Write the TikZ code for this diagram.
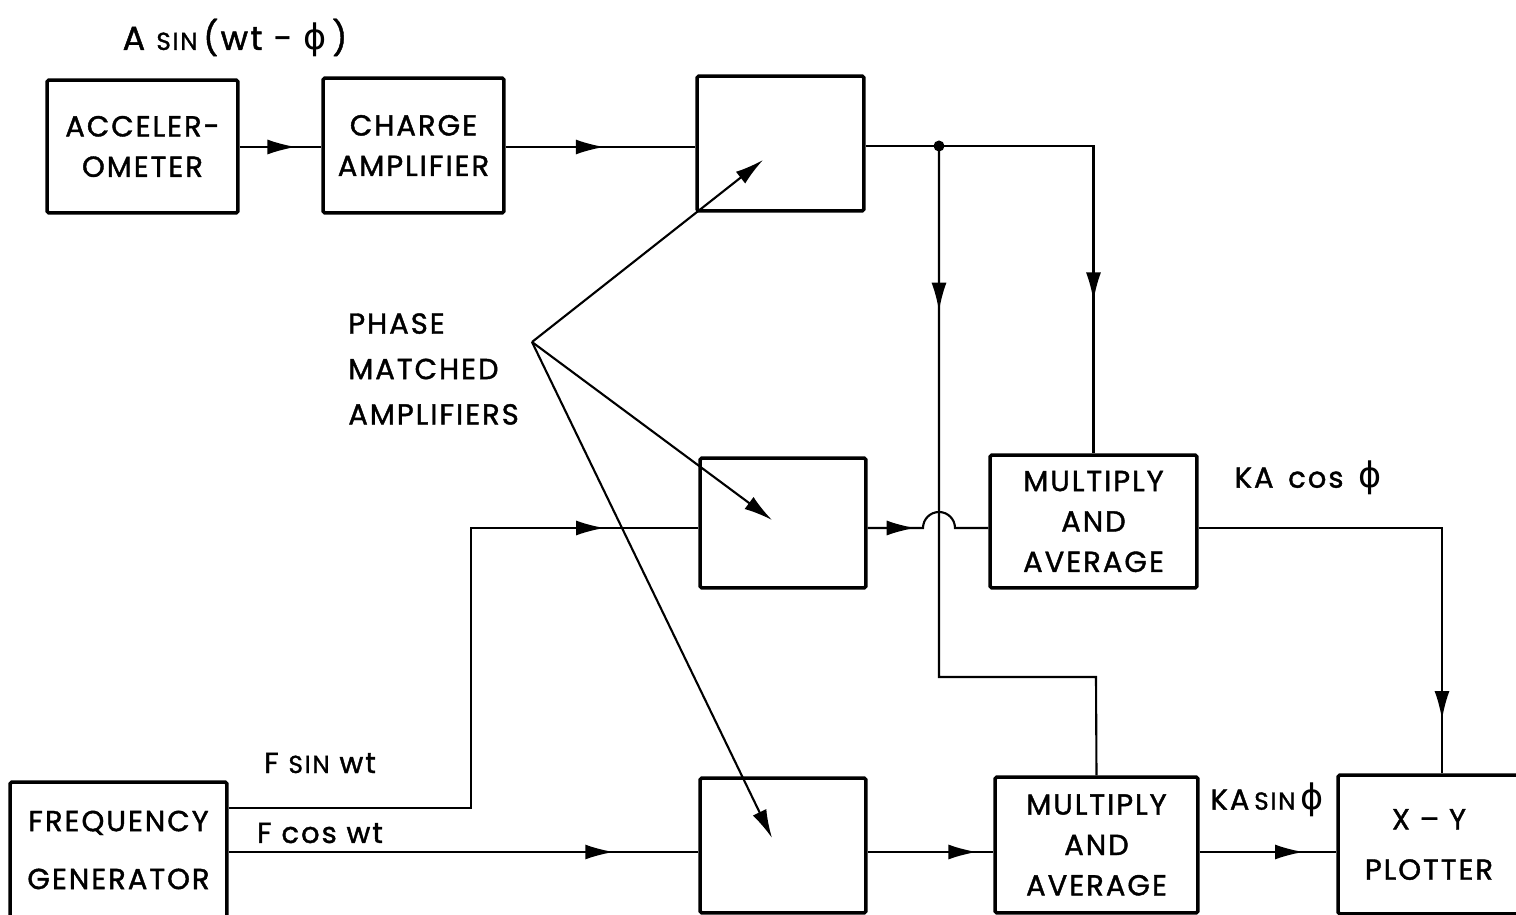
\documentclass[tikz,border=0pt]{standalone}
\usepackage{fontspec}
\setmainfont{Poppins}[LetterSpace=7, FakeBold=1.4]
\newfontfamily\grk{DejaVu Sans}
\newcommand{\ph}{{\grk\fontsize{20}{20}\selectfont ϕ}}
\newcommand{\sm}[1]{{\fontsize{14}{14}\selectfont #1}}
\usetikzlibrary{arrows.meta,decorations.markings}
\tikzset{
  blk/.style={draw, line width=2pt, rounded corners=1pt, align=center, inner sep=0pt},
  link/.style={line width=1.2pt},
  flow/.style={link, postaction={decorate}, decoration={markings,
    mark=at position #1 with {\arrow{Latex[length=5.7mm,width=3mm]}}}},
  pointer/.style={link, -{Latex[length=5.7mm,width=3mm]}},
  lbl/.style={inner sep=0pt}
}

\begin{document}
\begin{tikzpicture}[x=0.02cm, y=-0.02cm,
  font=\fontsize{16.5}{23}\selectfont]
\useasboundingbox (0,0) rectangle (1516,915);
% signal rows
\coordinate (rowA) at (0,147);
\coordinate (rowB) at (0,528);
\coordinate (rowC) at (0,852);
% blocks
\node[blk, minimum width=3.82cm, minimum height=2.66cm] (accel) at (142.5,146.5) {ACCELER-\\OMETER};
\node[blk, minimum width=3.62cm, minimum height=2.7cm] (charge) at (413.5,145.5) {CHARGE\\AMPLIFIER};
\node[blk, minimum width=3.34cm, minimum height=2.7cm] (pamp1) at (780.5,143.5) {};
\node[blk, minimum width=3.32cm, minimum height=2.6cm] (pamp2) at (783,523) {};
\node[blk, minimum width=3.32cm, minimum height=2.7cm] (pamp3) at (783,845.5) {};
\node[blk, minimum width=4.14cm, minimum height=2.66cm] (mult1) at (1093.5,521.5) {MULTIPLY\\AND\\AVERAGE};
\node[blk, minimum width=4.06cm, minimum height=2.72cm] (mult2) at (1096.5,845) {MULTIPLY\\AND\\AVERAGE};
\node[blk, minimum width=3.64cm, minimum height=2.78cm] (plotter) at (1429,844.5) {X -- Y\\[0.2cm]PLOTTER};
\node[blk, minimum width=4.34cm, minimum height=2.72cm] (freqgen) at (118.5,850) {FREQUENCY\\[0.35cm]GENERATOR};
% labels
\node[lbl] (inlabel) at (235,38) {\fontsize{19}{22}\selectfont A \sm{SIN}\,(wt - \ph\,)};
\node[lbl, align=left, anchor=west] (phaselbl) at (348,369) {PHASE\\[0.1cm]MATCHED\\[0.1cm]AMPLIFIERS};
\node[lbl] (cosout) at (1308,478) {KA \,cos \,\ph};
\node[lbl] (sinout) at (1267,800) {KA\,\sm{SIN}\,\ph};
\node[lbl] (fsin) at (320,763) {F \sm{SIN} wt};
\node[lbl] (fcos) at (320,833) {F cos wt};
% top row
\draw[flow=0.69] (accel.east |- rowA) -- (charge.west |- rowA);
\draw[flow=0.52] (charge.east |- rowA) -- (pamp1.west |- rowA);
\coordinate (tap) at (939,146);
\draw[link] (pamp1.east |- tap) -- (tap);
\fill (tap) circle (0.11cm);
\draw[flow=0.67] (tap) -| (mult1.north);
\coordinate (bend) at (1096,677);
\draw[flow=0.21] (tap) |- (bend) -- (mult2.north);
% middle row
\coordinate (sinbend) at (471,808);
\draw[flow=0.875] (freqgen.east |- sinbend) -- (sinbend) |- (pamp2.west |- rowB);
\coordinate (hop) at (tap |- rowB);
\draw[flow=0.95cm] (pamp2.east |- rowB) -- ([xshift=-0.32cm]hop)
  arc[start angle=180, end angle=0, radius=0.32cm] -- (mult1.west |- rowB);
\coordinate (ydrop) at (1442,528);
\draw[flow=0.89] (mult1.east |- rowB) -- (ydrop) -- (ydrop |- plotter.north);
% bottom row
\draw[flow=0.82] (freqgen.east |- rowC) -- (pamp3.west |- rowC);
\draw[flow=0.87] (pamp3.east |- rowC) -- (mult2.west |- rowC);
\draw[flow=0.76] (mult2.east |- rowC) -- (plotter.west |- rowC);
% phase matched pointers
\coordinate (fan) at (532,342);
\coordinate (tip1) at (763,160);
\coordinate (tip2) at (772,520);
\coordinate (tip3) at (772,838);
\draw[pointer] (fan) -- (tip1);
\draw[pointer] (fan) -- (tip2);
\draw[pointer] (fan) -- (tip3);
\end{tikzpicture}
\end{document}
